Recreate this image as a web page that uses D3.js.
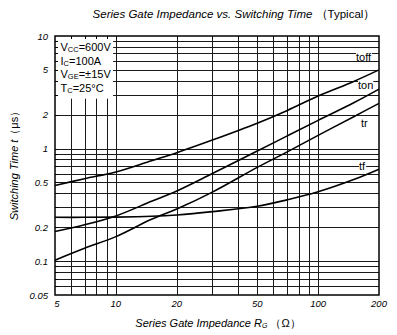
<!DOCTYPE html>
<html>
<head>
<meta charset="utf-8">
<script src="https://cdn.jsdelivr.net/npm/d3@7"></script>
<style>
  html, body { margin: 0; padding: 0; background: #fff; }
  svg { display: block; font-family: "Liberation Sans", Arial, sans-serif; }
</style>
</head>
<body>
<svg id="chart" width="397" height="335"></svg>
<script>
// Gate resistance (Ω) at which each switching time is sampled
const rg = [5, 7, 10, 15, 20, 30, 50, 70, 100, 150, 200];

// Switching times in µs
const toff = [0.47, 0.54, 0.62, 0.78, 0.92, 1.19, 1.68, 2.17, 2.93, 3.95, 5.0];
const ton  = [0.183, 0.21, 0.252, 0.34, 0.42, 0.60, 0.95, 1.29, 1.78, 2.55, 3.37];
const tr   = [0.102, 0.13, 0.165, 0.235, 0.29, 0.41, 0.68, 0.93, 1.31, 1.92, 2.52];
const tf   = [0.245, 0.245, 0.246, 0.25, 0.257, 0.275, 0.307, 0.35, 0.413, 0.53, 0.655];

const seriesNames = ["toff", "ton", "tr", "tf"];
const seriesValues = [toff, ton, tr, tf];

// Axis tick labels and grid values
const xTickLabels = [5, 10, 20, 50, 100, 200];
const yTickLabels = [0.05, 0.1, 0.2, 0.5, 1, 2, 5, 10];
const xGrid = [6, 7, 8, 9, 10, 20, 30, 40, 50, 60, 70, 80, 90, 100];
const yGrid = [0.06, 0.07, 0.08, 0.09, 0.1, 0.2, 0.3, 0.4, 0.5, 0.6, 0.7, 0.8, 0.9,
               1, 2, 3, 4, 5, 6, 7, 8, 9];

// Test conditions
const conditions = [
  ["V", "CC", "=600V"],
  ["I", "C", "=100A"],
  ["V", "GE", "=\u00B115V"],
  ["T", "C", "=25\u00B0C"]
];

const svg = d3.select("#chart");
const pLeft = 55, pRight = 379, pTop = 36, pBottom = 295;

const x = d3.scaleLog().domain([5, 200]).range([pLeft, pRight]);
const y = d3.scaleLog().domain([0.05, 10]).range([pBottom, pTop]);

// Grid lines
const grid = svg.append("g").attr("stroke", "#1a1a1a").attr("stroke-width", 1);
grid.selectAll("line.v").data(xGrid).join("line")
  .attr("x1", d => Math.round(x(d)) + 0.5).attr("x2", d => Math.round(x(d)) + 0.5)
  .attr("y1", pTop).attr("y2", pBottom);
grid.selectAll("line.h").data(yGrid).join("line")
  .attr("y1", d => Math.round(y(d)) + 0.5).attr("y2", d => Math.round(y(d)) + 0.5)
  .attr("x1", pLeft).attr("x2", pRight);

// Condition box covers the grid in the upper-left corner
svg.append("rect")
  .attr("x", pLeft + 1).attr("y", pTop + 1)
  .attr("width", x(9.8) - pLeft - 2).attr("height", y(2.95) - pTop + 2)
  .attr("fill", "#fff");

// Inward tick marks along the left and top edges
const tk = svg.append("g").attr("stroke", "#000").attr("stroke-width", 1);
const tickLen = 3;
tk.selectAll("line.l").data(yGrid).join("line")
  .attr("x1", pLeft).attr("x2", pLeft + tickLen)
  .attr("y1", d => Math.round(y(d)) + 0.5).attr("y2", d => Math.round(y(d)) + 0.5);
tk.selectAll("line.t").data(xGrid).join("line")
  .attr("x1", d => Math.round(x(d)) + 0.5).attr("x2", d => Math.round(x(d)) + 0.5)
  .attr("y1", pTop).attr("y2", pTop + tickLen);

// Condition text
const cond = svg.append("g").attr("font-size", 11).attr("fill", "#000");
conditions.forEach((c, i) => {
  const t = cond.append("text").attr("x", 60.5).attr("y", 51 + i * 13.5);
  t.append("tspan").text(c[0]);
  t.append("tspan").attr("font-size", 7.5).attr("dy", 1).text(c[1]);
  t.append("tspan").attr("dy", -1).text(c[2]);
});

// Curves
const line = d3.line()
  .x((d, i) => x(rg[i]))
  .y(d => y(d))
  .curve(d3.curveCatmullRom.alpha(0.5));

svg.append("g").selectAll("path").data(seriesValues).join("path")
  .attr("d", d => line(d))
  .attr("fill", "none")
  .attr("stroke", "#000")
  .attr("stroke-width", 1.6);

// Curve labels near the right edge
const labelPos = [
  { name: "toff", x: 356, y: 61 },
  { name: "ton", x: 358, y: 89 },
  { name: "tr", x: 361, y: 127 },
  { name: "tf", x: 359, y: 170 }
];
const lab = svg.append("g").attr("font-size", 11);
labelPos.forEach(p => {
  const t = lab.append("text").attr("x", p.x).attr("y", p.y).text(p.name);
  const bb = t.node().getBBox();
  lab.insert("rect", "text")
    .attr("x", bb.x).attr("y", bb.y + 2)
    .attr("width", bb.width).attr("height", bb.height - 4)
    .attr("fill", "#fff");
});

// Frame
svg.append("rect")
  .attr("x", pLeft).attr("y", pTop)
  .attr("width", pRight - pLeft).attr("height", pBottom - pTop)
  .attr("fill", "none").attr("stroke", "#000").attr("stroke-width", 1.5);

// Tick labels
const fmt = d => String(d);
svg.append("g").attr("font-size", 9.5).attr("font-style", "italic")
  .attr("text-anchor", "end")
  .selectAll("text").data(yTickLabels).join("text")
  .attr("x", 48).attr("y", d => y(d) + 3.5)
  .text(fmt);
svg.append("g").attr("font-size", 9.5).attr("font-style", "italic")
  .attr("text-anchor", "middle")
  .selectAll("text").data(xTickLabels).join("text")
  .attr("x", d => d === 5 ? x(d) + 2 : x(d))
  .attr("y", 307)
  .text(fmt);

// Title
const title = svg.append("text").attr("x", 234).attr("y", 18)
  .attr("text-anchor", "middle").attr("font-size", 11.5);
title.append("tspan").attr("font-style", "italic").text("Series Gate Impedance vs. Switching Time ");
title.append("tspan").text("\uFF08Typical\uFF09");

// X axis title
const xt = svg.append("text").attr("x", 218).attr("y", 327)
  .attr("text-anchor", "middle").attr("font-size", 11);
xt.append("tspan").attr("font-style", "italic").text("Series Gate Impedance R");
xt.append("tspan").attr("font-style", "italic").attr("font-size", 7).attr("dy", 1).text("G");
xt.append("tspan").attr("dy", -1).text(" \uFF08\u03A9\uFF09");

// Y axis title
const yt = svg.append("text")
  .attr("transform", "translate(18,163) rotate(-90)")
  .attr("text-anchor", "middle").attr("font-size", 11);
yt.append("tspan").attr("font-style", "italic").text("Switching Time t");
yt.append("tspan").text("\uFF08\u03BCs\uFF09");
</script>
</body>
</html>
